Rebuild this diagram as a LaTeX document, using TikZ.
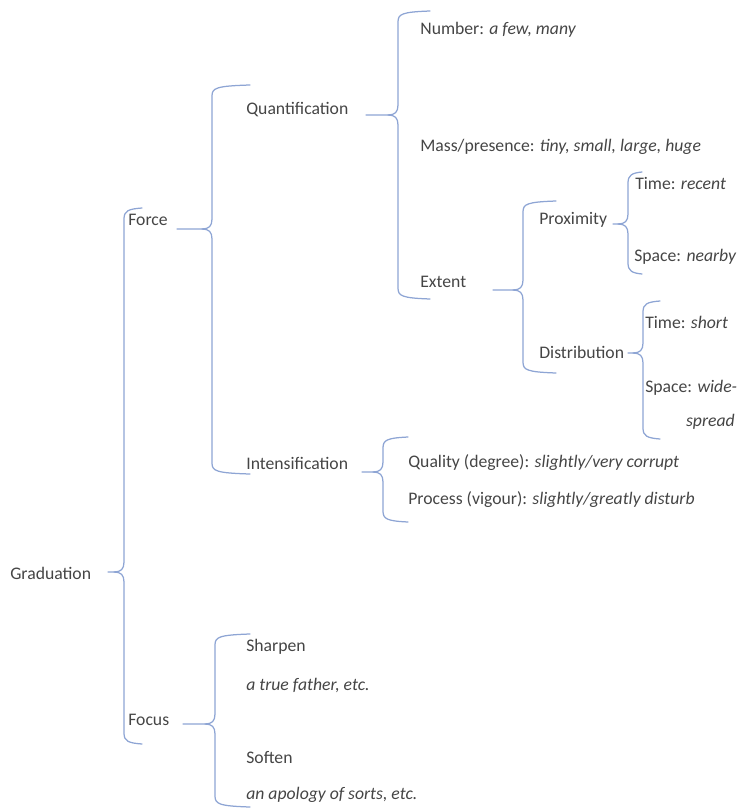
\documentclass[tikz,border=0pt]{standalone}
\usepackage{fontspec}
\setmainfont{Carlito}
\definecolor{brc}{HTML}{8EA5D4}
\definecolor{txt}{HTML}{454545}
% #1 name, #2 xv, #3 top, #4 tip, #5 bottom, #6 hook x, #7 dash x
\newcommand{\bracepath}[7]{%
  \coordinate (#1-tip) at (#7,#4);
  \draw[brace] (#1-tip) -- (#2-10,#4) .. controls (#2-3,#4) and (#2,#4-3) .. (#2,#4-10) -- (#2,#3+10) .. controls (#2,#3+2) and (#2+4,#3) .. (#6,#3-1);
  \draw[brace] (#2-10,#4) .. controls (#2-3,#4) and (#2,#4+3) .. (#2,#4+10) -- (#2,#5-10) .. controls (#2,#5-2) and (#2+4,#5) .. (#6,#5+1);}
\begin{document}
\begin{tikzpicture}[x=0.6pt,y=-0.6pt,
  lbl/.style={anchor=west,inner sep=0pt,text=txt,font=\fontsize{10.6}{13}\selectfont},
  brace/.style={draw=brc,line width=0.75pt,line cap=round,line join=round}]
\useasboundingbox (0,0) rectangle (737,809);
% level 0
\node[lbl] (grad) at (10,573) {Graduation};
% level 1
\node[lbl] (force) at (128,220) {Force};
\node[lbl] (focus) at (128,720) {Focus};
% level 2
\node[lbl] (quant) at (246,110) {Quantification};
\node[lbl] (inten) at (246,463) {Intensification};
\node[lbl] (sharp) at (246,647) {Sharpen};
\node[lbl] (sharpex) at (246,685) {\itshape a true father, etc.};
\node[lbl] (soft) at (246,757) {Soften};
\node[lbl] (softex) at (246,795) {\itshape an apology of sorts, etc.};
% level 3
\node[lbl] (number) at (420,30) {Number: \textit{a few, many}};
\node[lbl] (mass) at (420,147) {Mass/presence: \textit{tiny, small, large, huge}};
\node[lbl] (extent) at (420,282) {Extent};
\node[lbl] (quality) at (408,463) {Quality (degree): \textit{slightly/very corrupt}};
\node[lbl] (process) at (408,500) {Process (vigour): \textit{slightly/greatly disturb}};
% level 4
\node[lbl] (prox) at (539,220) {Proximity};
\node[lbl] (distr) at (539,352) {Distribution};
% level 5
\node[lbl] (ptime) at (635,183) {Time: \textit{recent}};
\node[lbl] (pspace) at (634,257) {Space: \textit{nearby}};
\node[lbl] (dtime) at (645,322) {Time: \textit{short}};
\node[lbl] (dspace) at (645,388) {Space: \textit{wide-}};
\node[lbl,anchor=east] (dspread) at (735,422) {\itshape spread};
% braces
\bracepath{gradb}{124}{209}{572}{743}{142}{108}
\bracepath{forceb}{212}{86}{229}{473}{250}{177}
\bracepath{focusb}{215}{635}{724}{806}{250}{183}
\bracepath{quantb}{398}{12}{115}{298}{430}{366}
\bracepath{intenb}{383}{438}{472}{521}{408}{362}
\bracepath{extentb}{523}{202}{290}{372}{556}{493}
\bracepath{proxb}{628}{173}{224}{273}{642}{613}
\bracepath{distrb}{643}{302}{353}{438}{660}{628}
\end{tikzpicture}
\end{document}
